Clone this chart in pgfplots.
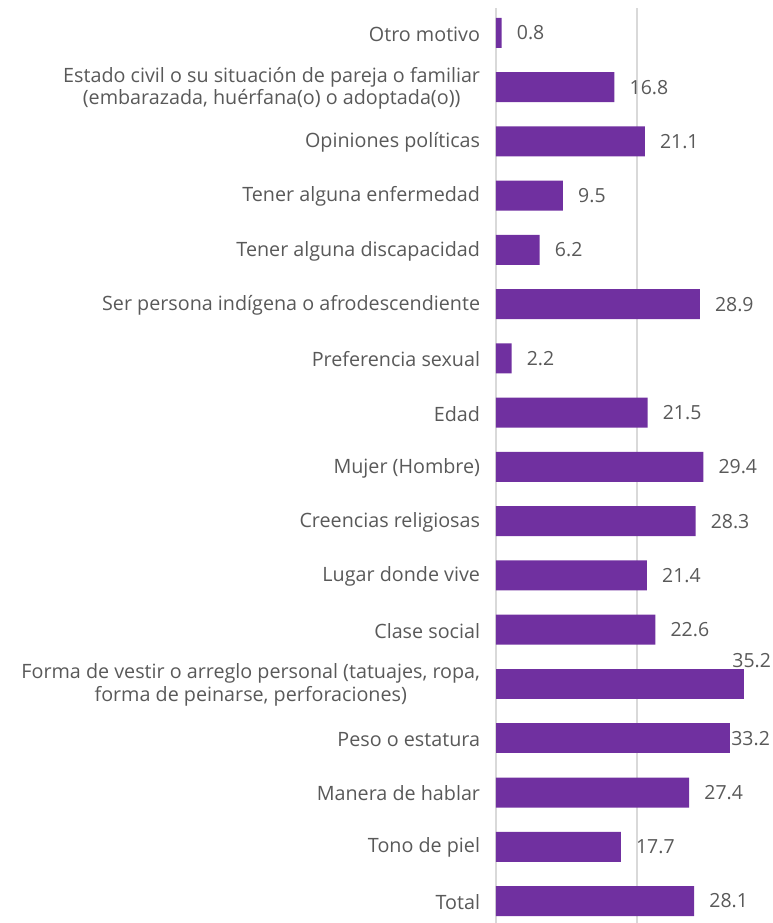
\documentclass[border=0pt]{standalone}
\usepackage{fontspec}
\setmainfont{Open Sans}
\usepackage{pgfplots}
\pgfplotsset{compat=1.18}
\definecolor{barc}{HTML}{7030A0}
\definecolor{txt}{HTML}{595959}
\definecolor{grd}{HTML}{D9D9D9}
\begin{document}
\begin{tikzpicture}
\path[use as bounding box] (-372pt,0pt) rectangle (207.75pt,692.25pt);
\begin{axis}[
  at={(0pt,0pt)}, anchor=south west,
  scale only axis, width=207.75pt, height=686.25pt,
  xbar, bar width=22.5pt,
  xmin=0, xmax=39.29, ymin=-0.405, ymax=16.46,
  clip=false,
  axis line style={draw=none},
  tick style={draw=none},
  xmajorgrids, major grid style={grd, line width=1.1pt},
  xtick={0,20,40}, xticklabels={},
  ytick={0,...,16},
  yticklabels={{Total},{Tono de piel},{Manera de hablar},{Peso o estatura},
    {Forma de vestir o arreglo personal (tatuajes, ropa,\\forma de peinarse, perforaciones)},
    {Clase social},{Lugar donde vive},{Creencias religiosas},{Mujer (Hombre)},{Edad},
    {Preferencia sexual},{Ser persona indígena o afrodescendiente},{Tener alguna discapacidad},
    {Tener alguna enfermedad},{Opiniones políticas},
    {Estado civil o su situación de pareja o familiar\\(embarazada, huérfana(o) o adoptada(o))},
    {Otro motivo}},
  yticklabel style={align=center, font=\fontsize{14.8}{17}\selectfont, text=txt, inner sep=0pt, xshift=-7.5pt, yshift=-0.75pt},
  point meta=x,
  nodes near coords={\pgfmathprintnumber[fixed,fixed zerofill,precision=1,assume math mode=true]{\pgfplotspointmeta}},
  every node near coord/.append style={font=\fontsize{14.6}{17}\selectfont, text=txt, inner sep=0pt, anchor=west},
]
\addplot[fill=barc, draw=none, bar shift=0pt,
  every node near coord/.append style={xshift=11.25pt}]
  coordinates {(28.1,0) (17.7,1) (27.4,2) (22.6,5) (21.4,6) (28.3,7) (29.4,8) (21.5,9)
    (2.2,10) (28.9,11) (6.2,12) (9.5,13) (21.1,14) (16.8,15) (0.8,16)};
\addplot[fill=barc, draw=none, bar shift=0pt,
  every node near coord/.append style={xshift=0.75pt}]
  coordinates {(33.2,3)};
\addplot[fill=barc, draw=none, bar shift=0pt,
  every node near coord/.append style={xshift=-9pt, yshift=17.25pt}]
  coordinates {(35.2,4)};
\end{axis}
\end{tikzpicture}
\end{document}
